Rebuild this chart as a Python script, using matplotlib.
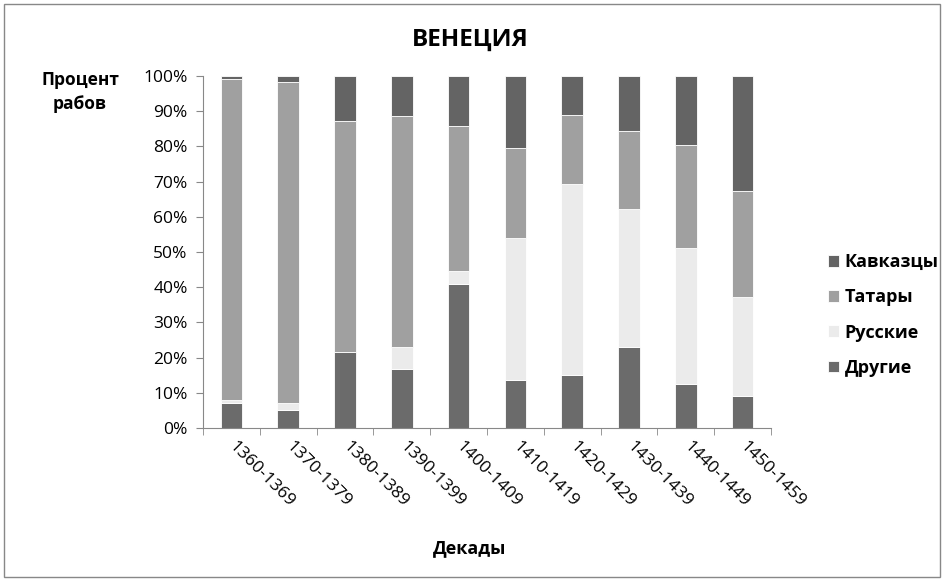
import matplotlib
matplotlib.use('Agg')
import matplotlib.pyplot as plt
import numpy as np

plt.rcParams['font.family'] = ['Open Sans', 'DejaVu Sans']

decades = ['1360-1369', '1370-1379', '1380-1389', '1390-1399', '1400-1409',
           '1410-1419', '1420-1429', '1430-1439', '1440-1449', '1450-1459']
# доли, %
drugie   = [7.0, 5.2, 21.7, 16.9, 40.8, 13.5, 15.1, 23.1, 12.5, 9.0]
russkie  = [1.0, 1.9, 0.0, 6.0, 3.8, 40.5, 54.2, 39.2, 38.5, 28.2]
tatary   = [91.1, 91.3, 65.6, 65.7, 41.2, 25.5, 19.5, 22.1, 29.4, 30.2]
kavkazcy = [0.9, 1.6, 12.7, 11.4, 14.2, 20.5, 11.2, 15.6, 19.6, 32.6]

colors = {'Другие': '#6b6b6b', 'Русские': '#ebebeb',
          'Татары': '#a0a0a0', 'Кавказцы': '#646464'}

fig = plt.figure(figsize=(9.45, 5.8), dpi=100)
ax = fig.add_axes([203/945, 1-428/580, 568/945, 352/580])

x = np.arange(len(decades))
w = 0.38
bottom = np.zeros(len(decades))
handles = []
for name, vals in [('Другие', drugie), ('Русские', russkie),
                   ('Татары', tatary), ('Кавказцы', kavkazcy)]:
    b = ax.bar(x, vals, w, bottom=bottom, color=colors[name], label=name,
               edgecolor='white', linewidth=0.6)
    bottom += np.array(vals)
    handles.append(b)

ax.set_xlim(-0.5, len(decades) - 0.5)
ax.set_ylim(0, 100)
ax.set_yticks(np.arange(0, 101, 10))
ax.set_yticklabels([f'{v}%' for v in range(0, 101, 10)], fontsize=12.5)
ax.set_xticks(x)
ax.set_xticklabels(decades, rotation=-45, ha='left', va='center',
                   rotation_mode='anchor', fontsize=12.5)
ax.tick_params(axis='x', length=0, pad=12)
ax.set_xticks(np.arange(-0.5, len(decades)), minor=True)
ax.tick_params(axis='x', which='minor', length=5, color='#888888')
ax.tick_params(axis='y', length=5, color='#888888', pad=6)

for s in ['top', 'right']:
    ax.spines[s].set_visible(False)
for s in ['left', 'bottom']:
    ax.spines[s].set_color('#888888')

fig.text(470/945, 1-40/580, 'ВЕНЕЦИЯ', ha='center', va='center',
         fontsize=17.5, fontweight='bold')
fig.text(80/945, 1-92/580, 'Процент\nрабов', ha='center', va='center',
         fontsize=12.5, fontweight='bold', linespacing=1.45)
fig.text(470/945, 1-548/580, 'Декады', ha='center', va='center',
         fontsize=13, fontweight='bold')

leg = fig.legend(handles[::-1], ['Другие', 'Русские', 'Татары', 'Кавказцы'][::-1],
                 loc='center left', bbox_to_anchor=(812/945, 1-315/580),
                 frameon=False, handlelength=0.6, handleheight=0.6,
                 handletextpad=0.3, labelspacing=0.95,
                 prop={'weight': 'bold', 'size': 13})

# рамка вокруг рисунка
fig.patches.append(plt.Rectangle((4/945, 3/580), 936/945, 573/580,
                                 transform=fig.transFigure, fill=False,
                                 edgecolor='#888888', linewidth=1))

fig.savefig('out.png', dpi=100)
